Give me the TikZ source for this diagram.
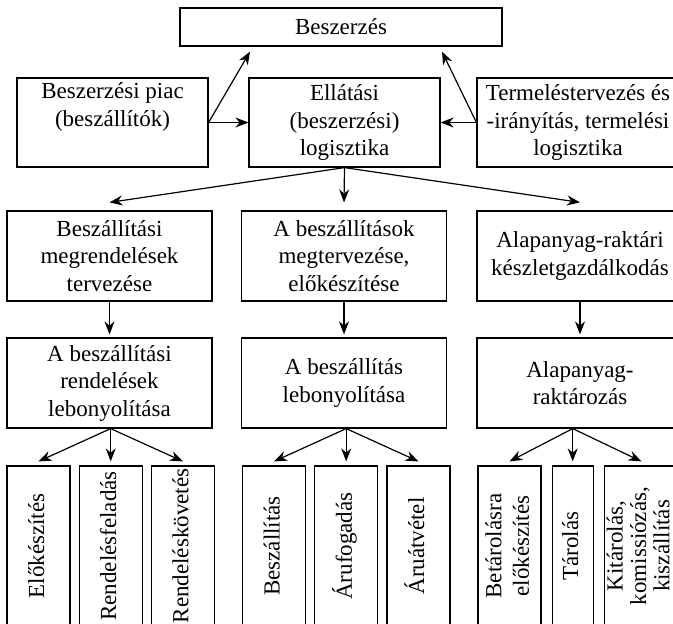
\documentclass[tikz,border=0pt]{standalone}
\usepackage{fontspec}
\setmainfont{Liberation Serif}
\usetikzlibrary{arrows.meta, positioning}

\newcommand{\rotlabel}[1]{\rotatebox{90}{\begin{tabular}{@{}c@{}}#1\end{tabular}}}

\begin{document}
\begin{tikzpicture}[
  x=1pt, y=-1pt,
  box/.style={draw, line width=1.2pt, align=center, inner sep=0pt, font=\fontsize{23}{27.5}\selectfont},
  rowbox/.style={box, minimum width=205pt, minimum height=90pt},
  sub/.style={box, minimum width=63pt, minimum height=160pt},
  arrow/.style={-{Stealth[length=13pt, width=10pt]}, line width=1.2pt},
  node distance=8pt
]
\useasboundingbox (0,0) rectangle (673,624);
\clip (0,0) rectangle (673,624);

% top
\node[box, minimum width=322pt, minimum height=38pt] (beszerzes) at (341,27) {Beszerzés};
\node[box, minimum width=191pt, minimum height=89pt] (piac) at (112.5,122.5) {Beszerzési piac\\(beszállítók)\\\strut};
\node[box, minimum width=191pt, minimum height=89pt] (ellatas) at (344.5,122.5) {Ellátási\\(beszerzési)\\logisztika};
\node[box, minimum width=202pt, minimum height=89pt] (termeles) at (578,122.5) {Termeléstervezés és\\-irányítás, termelési\\logisztika};

% second level
\node[rowbox] (tervezes) at (109.5,256) {Beszállítási\\megrendelések\\tervezése};
\node[rowbox] (elokeszites) at (344,256) {A beszállítások\\megtervezése,\\előkészítése};
\node[rowbox, minimum width=206pt] (keszlet) at (580,256) {Alapanyag-raktári\\készletgazdálkodás};

\node[rowbox] (rendeles) at (109.5,383) {A beszállítási\\rendelések\\lebonyolítása};
\node[rowbox] (lebony) at (344,383) {A beszállítás\\lebonyolítása};
\node[rowbox, minimum width=206pt] (raktar) at (580,383) {Alapanyag-\\raktározás};

% bottom row
\node[sub] (elok) at (38.5,546) {\rotlabel{Előkészítés}};
\node[sub, right=of elok] (rfeladas) {\rotlabel{Rendelésfeladás}};
\node[sub, right=of rfeladas] (rkovetes) {\rotlabel{Rendeléskövetés}};

\node[sub] (beszallitas) at (274,546) {\rotlabel{Beszállítás}};
\node[sub, right=of beszallitas] (arufogadas) {\rotlabel{Árufogadás}};
\node[sub, right=of arufogadas] (aruatvetel) {\rotlabel{Áruátvétel}};

\node[sub] (betarolas) at (509.5,546) {\rotlabel{Betárolásra\\előkészítés}};
\node[sub, minimum width=41pt, right=10pt of betarolas] (tarolas) {\rotlabel{Tárolás}};
\node[sub, minimum width=74pt, right=10pt of tarolas] (kitarolas) {\renewcommand{\arraystretch}{0.85}\rotlabel{Kitárolás,\\komissiózás,\\kiszállítás}};

% arrows
\draw[arrow] (piac.east) -- ([xshift=-91pt, yshift=-5pt]beszerzes.south);
\draw[arrow] (termeles.west) -- ([xshift=101pt, yshift=-5pt]beszerzes.south);
\draw[arrow] (piac.east) -- (ellatas.west);
\draw[arrow] (termeles.west) -- (ellatas.east);

\draw[arrow] (ellatas.south) -- ([yshift=8pt]tervezes.north);
\draw[arrow] (ellatas.south) -- ([yshift=8pt]elokeszites.north);
\draw[arrow] (ellatas.south) -- ([yshift=8pt]keszlet.north);

\draw[arrow, shorten >=3pt] (tervezes.south) -- (rendeles.north);
\draw[arrow, shorten >=3pt] (elokeszites.south) -- (lebony.north);
\draw[arrow, shorten >=3pt] (keszlet.south) -- (raktar.north);

\draw[arrow] (rendeles.south -| rfeladas) -- ([yshift=4pt]elok.north);
\draw[arrow] (rendeles.south -| rfeladas) -- ([yshift=4pt]rfeladas.north);
\draw[arrow] (rendeles.south -| rfeladas) -- ([yshift=4pt]rkovetes.north);

\draw[arrow] (lebony.south -| arufogadas) -- ([yshift=4pt]beszallitas.north);
\draw[arrow] (lebony.south -| arufogadas) -- ([yshift=4pt]arufogadas.north);
\draw[arrow] (lebony.south -| arufogadas) -- ([yshift=4pt]aruatvetel.north);

\draw[arrow] (raktar.south -| tarolas) -- ([yshift=4pt]betarolas.north);
\draw[arrow] (raktar.south -| tarolas) -- ([yshift=4pt]tarolas.north);
\draw[arrow] (raktar.south -| tarolas) -- ([yshift=4pt]kitarolas.north);
\end{tikzpicture}
\end{document}
